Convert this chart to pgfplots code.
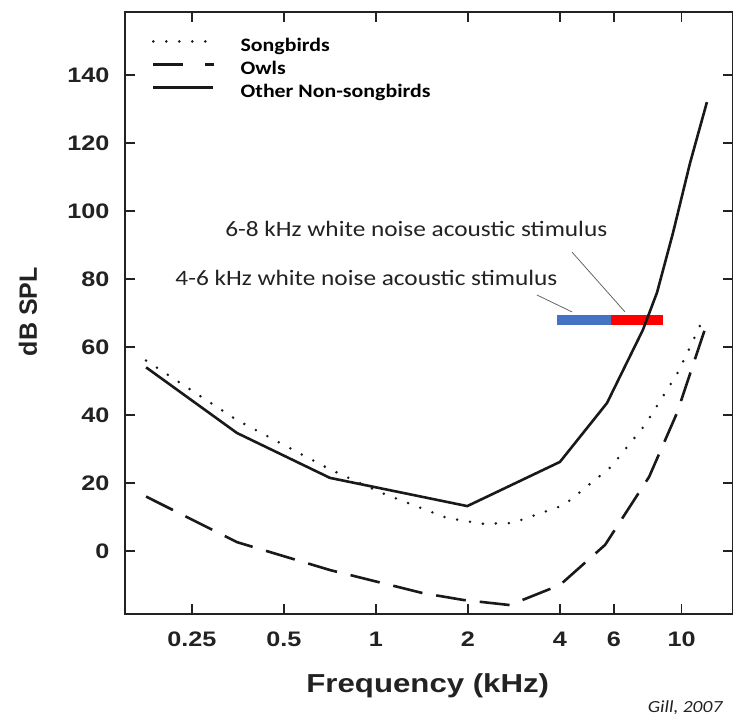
\documentclass[border=0pt]{standalone}
\usepackage{pgfplots}
\pgfplotsset{compat=1.18}
\usepackage{fontspec}
\setmainfont{Carlito}
\newfontfamily\arialf[FakeStretch=1.2]{Liberation Sans}
\newfontfamily\arialn{Liberation Sans}
\newfontfamily\calf[FakeStretch=1.15]{Carlito}
\definecolor{stimblue}{HTML}{4472C4}
\definecolor{stimred}{HTML}{FF0000}
\definecolor{ink}{HTML}{222222}
\begin{document}
\begin{tikzpicture}
\useasboundingbox (0pt,0pt) rectangle (733pt,717pt);
\begin{axis}[
  at={(125pt,103pt)}, anchor=south west,
  scale only axis, width=608pt, height=602pt,
  xmode=log, xmin=0.151, xmax=14.73, ymin=-18.53, ymax=158.5,
  xtick={0.25,0.5,1,2,4,6,10}, xticklabels={0.25,0.5,1,2,4,6,10},
  ytick={0,20,40,60,80,100,120,140}, yticklabels={0,20,40,60,80,100,120,140},
  xminorticks=false, yminorticks=false,
  tick align=inside, major tick length=10pt,
  axis line style={line width=1.8pt, color=ink},
  tick style={line width=1.5pt, color=ink},
  ticklabel style={font=\arialf\bfseries\fontsize{21}{24}\selectfont, text=ink},
  xticklabel style={anchor=center, yshift=-25pt},
  yticklabel style={anchor=east, xshift=-12pt},
  xlabel={Frequency (kHz)}, ylabel={dB SPL},
  xlabel style={font=\arialf\bfseries\fontsize{26}{30}\selectfont, text=ink, at={(axis description cs:0.498,-0.1185)}, anchor=center},
  ylabel style={font=\arialn\bfseries\fontsize{25}{30}\selectfont, text=ink, at={(axis description cs:-0.1595,0.502)}, anchor=center},
  legend style={at={(axis description cs:0.044,0.958)}, anchor=north west, draw=none, fill=none,
    font=\calf\bfseries\fontsize{19}{22}\selectfont, row sep=5pt, column sep=25pt, inner sep=0pt,
    nodes={inner sep=0pt, text height=14pt, text depth=4pt}},
  legend cell align=left,
  legend image code/.code={\draw[#1] (0pt,5pt) -- (60pt,5pt);},
]
% stimulus bars
\addplot[stimblue, line width=10pt, line cap=butt, forget plot] coordinates {(3.91,67.9) (5.87,67.9)};
\addplot[stimred, line width=10pt, line cap=butt, forget plot] coordinates {(5.87,67.9) (8.71,67.9)};
% Songbirds (dotted)
\addplot[black!90, line width=2.8pt, line cap=round, dash pattern=on 0pt off 13pt] coordinates {
  (0.177,56) (0.351,38.5) (0.707,24) (1.05,17) (1.71,9.7) (2.24,8) (2.79,8.2)
  (4.12,13.5) (5.87,24.7) (7.58,37) (9.66,52) (11.2,64) (11.9,69.4)};
\addlegendentry{Songbirds}
% Owls (dashed)
\addplot[black!90, line width=2.6pt, dash pattern=on 30pt off 14pt,
  legend image code/.code={\draw[black!90, line width=2.6pt] (0pt,5pt) -- (41pt,5pt) (52pt,5pt) -- (61pt,5pt);}] coordinates {
  (0.177,16) (0.351,2.6) (0.707,-5.6) (1.425,-12.4) (1.93,-14.4) (2.74,-15.9)
  (4.0,-10) (5.62,1.8) (7.83,21.8) (9.66,40.6) (12.0,66)};
\addlegendentry{Owls}
% Other non-songbirds (solid)
\addplot[black!90, line width=2.6pt] coordinates {
  (0.177,54) (0.351,34.7) (0.707,21.5) (1.99,13.2) (4.0,26.2) (5.70,43.5)
  (7.47,65) (8.31,76) (9.37,93.5) (10.65,114) (12.1,132)};
\addlegendentry{Other Non-songbirds}
% annotations
\node[anchor=base west, font=\calf\fontsize{22}{26}\selectfont, text=ink] at (axis cs:0.313,92.6) {6-8 kHz white noise acoustic stimulus};
\node[anchor=base west, font=\calf\fontsize{22}{26}\selectfont, text=ink] at (axis cs:0.215,78.2) {4-6 kHz white noise acoustic stimulus};
\draw[black!60, line width=0.8pt] (axis cs:4.38,87.9) -- (axis cs:6.53,70.3);
\draw[black!60, line width=0.8pt] (axis cs:3.36,75.3) -- (axis cs:4.38,70.3);
\end{axis}
\node[anchor=base east, font=\calf\itshape\fontsize{17}{20}\selectfont, text=ink] at (726pt,5pt) {Gill, 2007};
\end{tikzpicture}
\end{document}
